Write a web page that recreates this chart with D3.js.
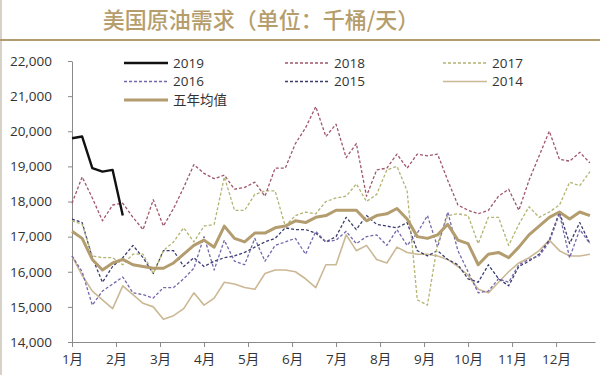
<!DOCTYPE html>
<html>
<head>
<meta charset="utf-8">
<script src="https://cdn.jsdelivr.net/npm/d3@7"></script>
<style>
  body { margin: 0; background: #fff; }
  svg { display: block; }
  text { font-family: "Open Sans", "Noto Sans CJK SC", sans-serif; }
</style>
</head>
<body>
<div id="chart"></div>
<script>
// weekly demand, thousand barrels per day
var months = ['1月','2月','3月','4月','5月','6月','7月','8月','9月','10月','11月','12月'];
var yTicks = [14000, 15000, 16000, 17000, 18000, 19000, 20000, 21000, 22000];

var y2019 = [19800, 19850, 18950, 18850, 18900, 17600];
var y2018 = [17950, 18700, 18100, 17450, 17900, 17950, 17550, 17200, 18050, 17300,
             17800, 18400, 19050, 18800, 18650, 18750, 18350, 18400, 18550, 18150,
             18950, 18950, 19650, 20100, 20700, 19850, 20200, 19250, 19650, 18150,
             18900, 18950, 19350, 18950, 19350, 19300, 19350, 18600, 17900, 17750,
             17650, 17750, 18150, 18350, 17750, 18600, 19300, 20000, 19200, 19150,
             19400, 19100];
var y2017 = [17450, 17350, 16450, 16400, 16400, 16200, 16500, 16500, 15950, 16600,
             16850, 17250, 16850, 17300, 17350, 18700, 17750, 17750, 18200, 18300,
             18300, 17300, 17600, 17700, 17650, 18000, 18100, 18150, 18500, 18000,
             18200, 18900, 19000, 18300, 15200, 15050, 16800, 17600, 17650, 17600,
             16800, 17550, 17550, 16750, 17350, 17850, 17550, 17700, 17900, 18550,
             18450, 18850];
var y2016 = [16450, 16000, 15050, 15450, 15650, 15850, 15400, 15350, 15250, 15550,
             15550, 15800, 16100, 17000, 16050, 16900, 16300, 16200, 16950, 16300,
             16750, 16850, 16950, 16500, 17150, 16850, 16900, 17150, 16800, 17000,
             17050, 16750, 17200, 16750, 17100, 17600, 16700, 17700, 16600, 16000,
             15400, 15450, 15800, 15700, 16200, 16350, 16450, 16850, 17650, 16400,
             17200, 16800];
var y2015 = [17500, 17400, 16400, 15700, 16150, 16400, 16750, 16400, 15950, 16600,
             16600, 16150, 16400, 16150, 16300, 16400, 16450, 16550, 16700, 16850,
             16950, 17250, 17200, 17200, 17100, 16850, 17000, 17550, 17200, 17600,
             17350, 17300, 17250, 17400, 16600, 16450, 16600, 16350, 16200, 15800,
             15700, 16200, 15800, 15600, 16150, 16300, 16500, 16900, 17700, 16800,
             17400, 16800];
var y2014 = [16450, 15900, 15450, 15200, 14950, 15600, 15350, 15100, 15000, 14650,
             14750, 14950, 15400, 15050, 15250, 15700, 15650, 15550, 15500, 15950,
             16050, 16050, 16000, 15800, 15550, 16200, 16200, 17050, 16600, 16750,
             16350, 16250, 16700, 16550, 16500, 16500, 16450, 16350, 16150, 15900,
             15500, 15400, 15700, 16000, 16250, 16400, 16600, 16900, 16600, 16450,
             16450, 16500];
var avg5 = [17150, 16950, 16350, 16050, 16250, 16350, 16200, 16150, 16100, 16100,
            16250, 16500, 16750, 16900, 16700, 17300, 16950, 16850, 17100, 17100,
            17250, 17300, 17450, 17400, 17550, 17600, 17750, 17750, 17750, 17450,
            17600, 17650, 17800, 17500, 17000, 16950, 17050, 17350, 16900, 16800,
            16200, 16500, 16550, 16400, 16700, 17050, 17300, 17550, 17700, 17500,
            17700, 17600];

var series = [
  {name: '2014', values: y2014, color: '#cbb894', width: 1.6, dash: null},
  {name: '2015', values: y2015, color: '#3b3d6e', width: 1.3, dash: '3,2'},
  {name: '2016', values: y2016, color: '#7467ab', width: 1.3, dash: '3,2'},
  {name: '2017', values: y2017, color: '#b3b372', width: 1.3, dash: '3,2'},
  {name: '2018', values: y2018, color: '#a0566a', width: 1.3, dash: '3,2'},
  {name: '五年均值', values: avg5, color: '#b39c6e', width: 3, dash: null},
  {name: '2019', values: y2019, color: '#111111', width: 2.4, dash: null}
];

var W = 600, H = 375;
var svg = d3.select('#chart').append('svg')
    .attr('width', W)
    .attr('height', H);

// frame + title
svg.append('line')
    .attr('x1', 1).attr('x2', 1).attr('y1', 0).attr('y2', H)
    .attr('stroke', '#c9c3b6').attr('stroke-width', 1.5);
svg.append('line')
    .attr('x1', 0).attr('x2', W).attr('y1', 40).attr('y2', 40)
    .attr('stroke', '#b39c6e').attr('stroke-width', 2);
svg.append('text')
    .attr('x', 261).attr('y', 28)
    .attr('text-anchor', 'middle')
    .style('font-family', '"Noto Sans CJK SC", sans-serif')
    .style('font-size', '22px')
    .style('font-weight', '500')
    .attr('fill', '#b59d6c')
    .text('美国原油需求（单位：千桶/天）');

var x = d3.scaleLinear().domain([0, 51.5]).range([72, 595]);
var y = d3.scaleLinear().domain([14000, 22000]).range([342, 61]);

// y axis
var yAxis = svg.append('g')
    .attr('transform', 'translate(72,0)')
    .call(d3.axisLeft(y).tickValues(yTicks).tickSize(4).tickSizeOuter(0)
          .tickFormat(d3.format(',')));
yAxis.select('.domain').attr('stroke', '#8a8a8a');
yAxis.selectAll('.tick line').attr('stroke', '#8a8a8a');
yAxis.selectAll('.tick text')
    .attr('x', -20)
    .style('font-size', '13.5px')
    .attr('fill', '#333');

// x axis, one tick per month
var monthPos = months.map(function(m, i) { return i * 52 / 12; });
var xAxis = svg.append('g')
    .attr('transform', 'translate(0,342)')
    .call(d3.axisBottom(x).tickValues(monthPos).tickSize(5).tickSizeOuter(0)
          .tickFormat(function(d, i) { return months[i]; }));
xAxis.select('.domain').attr('stroke', '#8a8a8a');
xAxis.selectAll('.tick line').attr('stroke', '#8a8a8a');
xAxis.selectAll('.tick text')
    .attr('y', 12)
    .style('font-size', '13.5px')
    .style('font-family', '"Open Sans", "Noto Sans CJK SC", sans-serif')
    .attr('fill', '#333');

// lines
var line = d3.line()
    .x(function(d, i) { return x(i); })
    .y(function(d) { return y(d); });

svg.selectAll('.series')
    .data(series)
    .enter()
    .append('path')
    .attr('class', 'series')
    .attr('d', function(d) { return line(d.values); })
    .attr('fill', 'none')
    .attr('stroke', function(d) { return d.color; })
    .attr('stroke-width', function(d) { return d.width; })
    .attr('stroke-dasharray', function(d) { return d.dash; })
    .attr('stroke-linejoin', 'round');

// legend: 3 columns, 2019/2016/avg, 2018/2015, 2017/2014
var legendOrder = ['2019', '2018', '2017', '2016', '2015', '2014', '五年均值'];
var colX = [124, 285, 443];
var rowY = [63, 81.5, 100];
var legend = svg.selectAll('.legend')
    .data(legendOrder.map(function(n) {
        return series.filter(function(s) { return s.name === n; })[0];
    }))
    .enter()
    .append('g')
    .attr('class', 'legend')
    .attr('transform', function(d, i) {
        return 'translate(' + colX[i % 3] + ',' + rowY[Math.floor(i / 3)] + ')';
    });

legend.append('line')
    .attr('x1', 0).attr('x2', 44)
    .attr('stroke', function(d) { return d.color; })
    .attr('stroke-width', function(d) { return d.width; })
    .attr('stroke-dasharray', function(d) { return d.dash; });

legend.append('text')
    .attr('x', 49)
    .attr('dy', '0.35em')
    .style('font-size', '13.5px')
    .attr('fill', '#333')
    .text(function(d) { return d.name; });
</script>
</body>
</html>
